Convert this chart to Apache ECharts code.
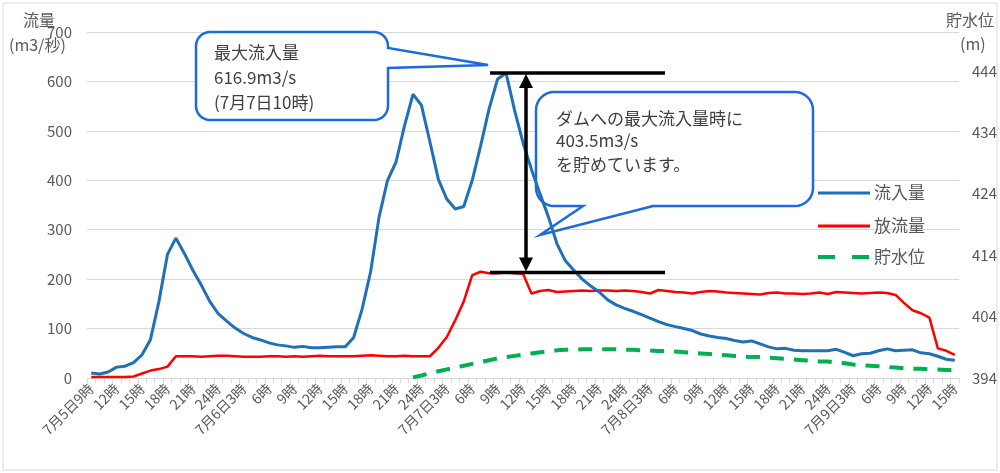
<!DOCTYPE html>
<html><head><meta charset="utf-8">
<script src="https://cdn.jsdelivr.net/npm/echarts@6/dist/echarts.min.js"></script>
<style>html,body{margin:0;padding:0;background:#fff}#c{width:1000px;height:473px}</style>
</head><body><div id="c"></div>
<script>
// hourly categories from 7月5日9時 to 7月9日15時
const startDay = 5, startHour = 9, nPoints = 103;
const categories = [];
for (let i = 0; i < nPoints; i++) {
  const t = startHour + i;
  let day = startDay + Math.floor(t / 24), h = t % 24;
  if (h === 0) { h = 24; day -= 1; }
  categories.push((i === 0 || h === 3) ? `7月${day}日${h}時` : `${h}時`);
}

// 流入量 (m3/秒)
const inflow = [10,8,12,22,24,31,47,78,155,250,283,252,218,188,155,130,115,101,90,82,
  77,71,67,65,62,64,61,61,62,63,63,82,140,215,326,400,437,510,574,552,
  478,402,362,342,347,400,470,545,605,616.9,542,476,422,373,326,272,237,218,200,186,
  174,158,148,141,135,128,121,114,108,104,100,96,89,85,82,80,76,73,75,69,
  63,59,60,56,55,55,55,55,58,52,45,49,50,55,59,55,56,57,51,49,
  44,38,36];

// 放流量 (m3/秒)
const outflow = [2,2,2,2,2,3,9,15,18,23,44,44,44,43,44,45,45,44,43,43,
  43,44,44,43,44,43,44,45,44,44,44,44,45,46,45,44,44,45,44,44,
  44,61,83,117,155,208,215,212,212,213.4,212,211,171,176,178,174,175,176,177,176,
  177,177,176,177,176,174,171,178,176,174,173,171,174,176,175,173,172,171,170,169,
  172,173,171,171,170,171,173,170,174,173,172,171,172,173,172,168,152,137,131,122,
  60,55,47];

// 貯水位 (m)
const level = [null,null,null,null,null,null,null,null,null,null,null,null,null,null,null,null,null,null,null,null,
  null,null,null,null,null,null,null,null,null,null,null,null,null,null,null,null,null,null,394.1,394.4,
  394.8,395.1,395.4,395.7,396.0,396.3,396.6,396.9,397.2,397.4,397.6,397.8,398.0,398.2,398.3,398.5,398.6,398.6,398.7,398.7,
  398.7,398.7,398.7,398.6,398.6,398.5,398.5,398.4,398.4,398.3,398.2,398.1,398.0,397.9,397.8,397.7,397.6,397.5,397.4,397.4,
  397.3,397.2,397.1,397.0,396.9,396.8,396.7,396.7,396.5,396.4,396.2,396.1,396.0,395.9,395.8,395.7,395.6,395.5,395.5,395.4,
  395.4,395.3,395.3];

const seriesNames = ['流入量', '放流量', '貯水位'];
const seriesColors = ['#1f70b8', '#ff0000', '#00b050'];
const peakInflow = 616.9, peakIndex = 49, storedAtPeak = 403.5;

const FONT = '"Noto Sans CJK JP", "Noto Sans", sans-serif';
const GRAY = '#595959', GRID = '#d9d9d9', CALLOUT = '#1a6be0';

const chart = echarts.init(document.getElementById('c'), null, {renderer: 'canvas'});
chart.setOption({
  animation: false,
  backgroundColor: '#fff',
  textStyle: {fontFamily: FONT},
  grid: {left: 87, right: 38, top: 32, bottom: 95, containLabel: false},
  xAxis: {
    type: 'category', data: categories, boundaryGap: true,
    axisLine: {lineStyle: {color: GRID, width: 1}},
    axisTick: {show: true, interval: 0, length: 5, lineStyle: {color: GRID}},
    axisLabel: {interval: 2, rotate: 45, fontSize: 14, color: GRAY, margin: 8, fontFamily: FONT}
  },
  yAxis: [{
    type: 'value', min: 0, max: 700, interval: 100,
    axisLine: {show: false}, axisTick: {show: false},
    splitLine: {lineStyle: {color: GRID, width: 1}},
    axisLabel: {fontSize: 15, color: GRAY, margin: 15, fontFamily: FONT}
  }, {
    type: 'value', min: 394, max: 450.35, interval: 10, position: 'right',
    axisLine: {show: false}, axisTick: {show: false}, splitLine: {show: false},
    axisLabel: {fontSize: 15, color: GRAY, margin: 13, showMaxLabel: false, fontFamily: FONT,
      formatter: v => (Math.abs(v - Math.round(v)) > 0.01 ? '' : String(Math.round(v)))}
  }],
  series: [{
    name: seriesNames[0], type: 'line', data: inflow, symbol: 'none', z: 4,
    lineStyle: {color: seriesColors[0], width: 3}
  }, {
    name: seriesNames[1], type: 'line', data: outflow, symbol: 'none', z: 3,
    lineStyle: {color: seriesColors[1], width: 2.5}
  }, {
    name: seriesNames[2], type: 'line', yAxisIndex: 1, data: level, symbol: 'none', z: 3,
    lineStyle: {color: seriesColors[2], width: 4, type: [14, 10]}
  }]
});

// annotations (positions of the peak marks come from the chart's scales)
const pTop = chart.convertToPixel({gridIndex: 0}, [peakIndex, peakInflow]);
const pBot = chart.convertToPixel({gridIndex: 0}, [peakIndex, outflow[peakIndex]]);
const yTop = pTop[1], yBot = pBot[1];
let xPeak = pTop[0];
if (!(xPeak > 300 && xPeak < 700)) xPeak = 507.5;
const ax = 526;

function txt(x, y, s, size, color, z) {
  return {type: 'text', x, y, z: z || 20, style: {text: s, fontSize: size, fill: color || GRAY, fontFamily: FONT, textVerticalAlign: 'middle'}};
}
function arc(cx, cy, r, a0, a1) {
  const pts = [];
  for (let k = 0; k <= 8; k++) {
    const a = (a0 + (a1 - a0) * k / 8) * Math.PI / 180;
    pts.push([cx + r * Math.cos(a), cy + r * Math.sin(a)]);
  }
  return pts;
}
// bubble 1: box 196..388 x 32..120, pointer on the right side
const r1 = 14;
const bubble1 = [].concat(
  arc(196 + r1, 32 + r1, r1, 180, 270),
  arc(388 - r1, 32 + r1, r1, 270, 360),
  [[388, 48], [xPeak - 18, yTop - 8], [388, 68]],
  arc(388 - r1, 120 - r1, r1, 0, 90),
  arc(196 + r1, 120 - r1, r1, 90, 180)
);
// bubble 2: box 536..813 x 92..206, pointer at the bottom
const r2 = 18;
const bubble2 = [].concat(
  arc(536 + r2, 92 + r2, r2, 180, 270),
  arc(813 - r2, 92 + r2, r2, 270, 360),
  arc(813 - r2, 206 - r2, r2, 0, 90),
  [[653, 206], [540, 235], [583, 206]],
  arc(536 + r2, 206 - r2, r2, 90, 180)
);

const legendY = [193, 226, 257];
const legendEls = [];
seriesNames.forEach((n, i) => {
  legendEls.push({type: 'line', z: 20, shape: {x1: 818, y1: legendY[i], x2: 870, y2: legendY[i]},
    style: {stroke: seriesColors[i], lineWidth: i === 2 ? 4 : 3, lineDash: i === 2 ? [17, 17] : null}});
  legendEls.push(txt(874, legendY[i], n, 17));
});

chart.setOption({
  graphic: [
    {type: 'rect', z: 0, shape: {x: 3, y: 3, width: 994, height: 467}, style: {fill: 'none', stroke: GRID, lineWidth: 1}},
    txt(23, 20, '流量', 16),
    txt(9, 45, '(m3/秒)', 16),
    txt(946, 20, '貯水位', 16),
    txt(960, 44, '(m)', 16),
    {type: 'polygon', z: 1, shape: {points: bubble1}, style: {fill: '#fff', stroke: CALLOUT, lineWidth: 2.5}},
    txt(214, 53, '最大流入量', 17, '#404040'),
    txt(214, 78, peakInflow + 'm3/s', 17, '#404040'),
    txt(214, 103, '(7月7日10時)', 17, '#404040'),
    {type: 'polygon', z: 1, shape: {points: bubble2}, style: {fill: '#fff', stroke: CALLOUT, lineWidth: 2.5}},
    txt(556, 119, 'ダムへの最大流入量時に', 17, '#404040'),
    txt(556, 141, storedAtPeak + 'm3/s', 17, '#404040'),
    txt(556, 165, 'を貯めています。', 17, '#404040'),
    {type: 'line', z: 20, shape: {x1: 490, y1: yTop, x2: 665, y2: yTop}, style: {stroke: '#000', lineWidth: 3.5}},
    {type: 'line', z: 20, shape: {x1: 490, y1: yBot, x2: 665, y2: yBot}, style: {stroke: '#000', lineWidth: 3.5}},
    {type: 'line', z: 20, shape: {x1: ax, y1: yTop + 10, x2: ax, y2: yBot - 10}, style: {stroke: '#000', lineWidth: 3.5}},
    {type: 'polygon', z: 20, shape: {points: [[ax, yTop + 1], [ax - 7, yTop + 15], [ax + 7, yTop + 15]]}, style: {fill: '#000'}},
    {type: 'polygon', z: 20, shape: {points: [[ax, yBot - 1], [ax - 7, yBot - 15], [ax + 7, yBot - 15]]}, style: {fill: '#000'}}
  ].concat(legendEls)
});
</script></body></html>
